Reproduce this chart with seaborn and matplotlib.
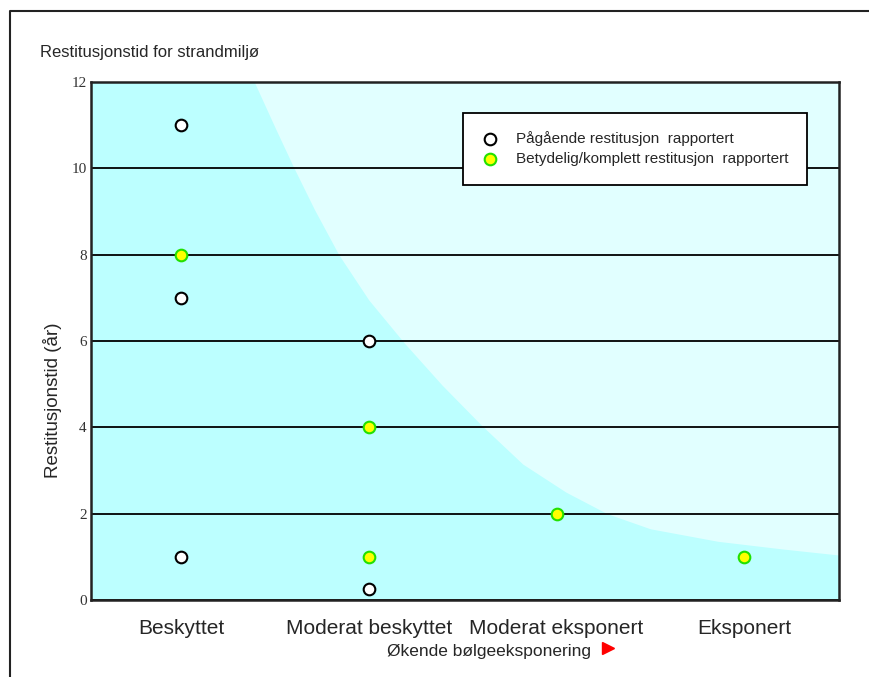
import pandas as pd
import seaborn as sns
import matplotlib.pyplot as plt
from matplotlib.lines import Line2D

# exposure classes along the x axis
categories = ["Beskyttet", "Moderat beskyttet", "Moderat eksponert", "Eksponert"]

# ongoing recovery reported (open circles)
ongoing_cat = ["Beskyttet", "Beskyttet", "Beskyttet", "Moderat beskyttet", "Moderat beskyttet"]
ongoing_years = [11, 7, 1, 6, 0.25]

# significant/complete recovery reported (yellow circles)
complete_cat = ["Beskyttet", "Moderat beskyttet", "Moderat beskyttet", "Moderat eksponert", "Eksponert"]
complete_years = [8, 4, 1, 2, 1]

# boundary of the lighter band
shade_x = [0.39, 0.50, 0.60, 0.71, 0.84, 1.00, 1.19, 1.39, 1.60, 1.82, 2.05, 2.27, 2.50, 2.86, 3.21, 3.51]
shade_y = [12.0, 10.95, 10.02, 9.05, 8.0, 6.95, 5.95, 4.98, 4.05, 3.15, 2.5, 2.0, 1.65, 1.36, 1.18, 1.04]

y_ticks = [0, 2, 4, 6, 8, 10, 12]

legend_ongoing = "Pågående restitusjon  rapportert"
legend_complete = "Betydelig/komplett restitusjon  rapportert"

pos = {c: i for i, c in enumerate(categories)}
df_ongoing = pd.DataFrame({"x": [pos[c] for c in ongoing_cat], "years": ongoing_years})
df_complete = pd.DataFrame({"x": [pos[c] for c in complete_cat], "years": complete_years})

sns.set_style("white")
plt.rcParams["font.family"] = ["Liberation Sans", "DejaVu Sans"]

fig = plt.figure(figsize=(8.69, 6.77), dpi=100)
ax = fig.add_axes([0.1047, 0.1137, 0.8608, 0.7652])

dark_cyan = "#BCFFFF"
light_cyan = "#E1FFFF"
ax.set_facecolor(dark_cyan)
ax.fill_between(shade_x, shade_y, 12, color=light_cyan, lw=0, zorder=0.2)

sns.scatterplot(data=df_ongoing, x="x", y="years", ax=ax, s=70, color="white",
                edgecolor="black", linewidth=1.5, label=legend_ongoing, zorder=4)
sns.scatterplot(data=df_complete, x="x", y="years", ax=ax, s=70, color="#FFFF00",
                edgecolor="#22E000", linewidth=1.5, label=legend_complete, zorder=4)

ax.set_xlim(-0.48, 3.505)
ax.set_ylim(0, 12)
ax.set_xticks(range(len(categories)))
ax.set_xticklabels(categories, fontsize=15)
ax.set_yticks(y_ticks)
ax.set_yticklabels([str(t) for t in y_ticks], family="Liberation Serif", fontsize=11, color="#333333")
ax.tick_params(axis="x", length=0, pad=14)
ax.tick_params(axis="y", length=0, pad=3)

ax.set_axisbelow(True)
ax.yaxis.grid(True, color="black", lw=1.3)
ax.xaxis.grid(False)
for sp in ax.spines.values():
    sp.set_visible(True)
    sp.set_color("#222222")
    sp.set_linewidth(1.8)

ax.set_xlabel("Økende bølgeeksponering", fontsize=12.5)
ax.xaxis.set_label_coords(0.532, -0.085)
ax.plot([0.691], [-0.093], marker=">", color="red", markersize=8, transform=ax.transAxes,
        clip_on=False, ls="none")

ax.set_ylabel("Restitusjonstid (år)", fontsize=13.5)
ax.yaxis.set_label_coords(-0.039, 0.385)

leg = ax.legend(loc="upper left", bbox_to_anchor=(0.497, 0.940), fontsize=11,
                frameon=True, fancybox=False, framealpha=1, facecolor="white",
                edgecolor="black", borderpad=1.2, labelspacing=0.4,
                handlelength=1.2, handletextpad=1.1, borderaxespad=0)
leg.get_frame().set_linewidth(1.3)

fig.text(40 / 869, 1 - 53 / 677, "Restitusjonstid for strandmiljø", fontsize=12,
         ha="left", va="center")

# outer frame of the page
fig.add_artist(Line2D([0.0115, 0.0115, 1.0], [0.0, 0.9838, 0.9838], transform=fig.transFigure,
                      color="#222222", lw=1.5))

fig.savefig("out.png", dpi=100)
plt.close(fig)
